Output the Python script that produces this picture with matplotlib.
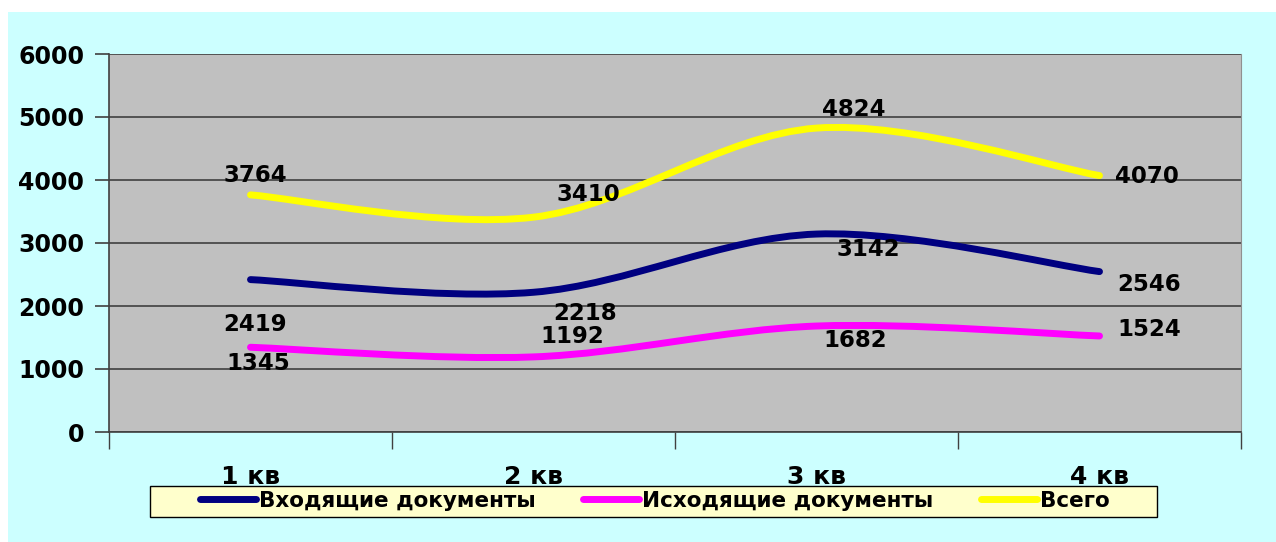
import numpy as np
import matplotlib.pyplot as plt
from matplotlib.path import Path
from matplotlib.patches import PathPatch, Rectangle
from matplotlib.lines import Line2D

plt.rcParams['font.family'] = ['DejaVu Sans']
plt.rcParams['font.weight'] = 'bold'

# ─── данные ───────────────────────────────────────────────
quarters = ['1 кв', '2 кв', '3 кв', '4 кв']
incoming = [2419, 2218, 3142, 2546]
outgoing = [1345, 1192, 1682, 1524]
total = [3764, 3410, 4824, 4070]

series_names = ['Входящие документы', 'Исходящие документы', 'Всего']
colors = ['#000080', '#FF00FF', '#FFFF00']

# смещения подписей (пиксели)
offsets_in = [(5, -45), (52, -21), (52, -15), (50, -13)]
offsets_out = [(8, -16), (39, 20), (39, -14), (50, 6)]
offsets_tot = [(5, 19), (55, 23), (37, 19), (47, -1)]


def smooth_path(xs, ys):
    # сглаживание как в Excel: кубические Безье по соседним точкам
    p = np.column_stack([xs, ys]).astype(float)
    ext = np.vstack([p[0], p, p[-1]])
    verts = [p[0]]
    codes = [Path.MOVETO]
    for i in range(len(p) - 1):
        p0, p1, p2, p3 = ext[i], ext[i + 1], ext[i + 2], ext[i + 3]
        c1 = p1 + (p2 - p0) / 6
        c2 = p2 - (p3 - p1) / 6
        verts += [c1, c2, p2]
        codes += [Path.CURVE4] * 3
    return Path(verts, codes)


W, H = 1276, 542
fig = plt.figure(figsize=(W / 100, H / 100), dpi=100, facecolor='white')
fig.patches.append(Rectangle((8 / W, 0), 1, 1 - 12 / H, transform=fig.transFigure,
                             facecolor='#CCFFFF', edgecolor='none', zorder=-10))

ax = fig.add_axes([109 / W, 1 - 432 / H, 1132 / W, 378 / H])
ax.set_facecolor('#C0C0C0')

x = np.arange(len(quarters))
all_series = [incoming, outgoing, total]
all_offsets = [offsets_in, offsets_out, offsets_tot]

for vals, col in zip(all_series, colors):
    ax.add_patch(PathPatch(smooth_path(x, vals), facecolor='none', edgecolor=col,
                           lw=5, capstyle='round', joinstyle='round', zorder=3))

for vals, offs in zip(all_series, all_offsets):
    for xi, v, off in zip(x, vals, offs):
        ax.annotate(str(v), (xi, v), xytext=off, textcoords='offset pixels',
                    ha='center', va='center', fontsize=16.5, fontweight='bold', zorder=5)

ax.set_xlim(-0.5, 3.5)
ax.set_ylim(0, 6000)
ax.set_yticks(range(0, 6001, 1000))
ax.yaxis.grid(True, color='#404040', lw=1.2)
ax.set_axisbelow(True)

ax.set_xticks(x)
ax.set_xticklabels(quarters, fontsize=18, fontweight='bold')
ax.set_xticks(np.arange(-0.5, 4, 1), minor=True)
ax.tick_params(axis='x', which='major', length=0, pad=24)
ax.tick_params(axis='x', which='minor', length=12, width=1, color='#404040')
ax.tick_params(axis='y', length=10, width=1.2, color='#404040', labelsize=17, pad=8)
for lab in ax.get_yticklabels():
    lab.set_fontweight('bold')

for s in ['left', 'bottom']:
    ax.spines[s].set_color('#404040')
    ax.spines[s].set_linewidth(1.2)
ax.spines['top'].set_visible(False)
ax.spines['right'].set_color('#909090')

# рамка легенды
fig.patches.append(Rectangle((150 / W, 1 - 517 / H), 1007 / W, 31 / H,
                             transform=fig.transFigure, facecolor='#FFFFCC',
                             edgecolor='black', lw=1, zorder=1))

handles = [Line2D([], [], color=c, lw=5, solid_capstyle='round') for c in colors]
leg = fig.legend(handles, series_names, loc='center', ncol=3,
                 bbox_to_anchor=(655 / W, 1 - 501 / H),
                 prop={'size': 15.5, 'weight': 'bold'}, frameon=False,
                 handlelength=2.6, handletextpad=0.15, columnspacing=2.2,
                 borderpad=0, borderaxespad=0)
leg.set_zorder(2)

fig.savefig('out.png', dpi=100, facecolor=fig.get_facecolor())
